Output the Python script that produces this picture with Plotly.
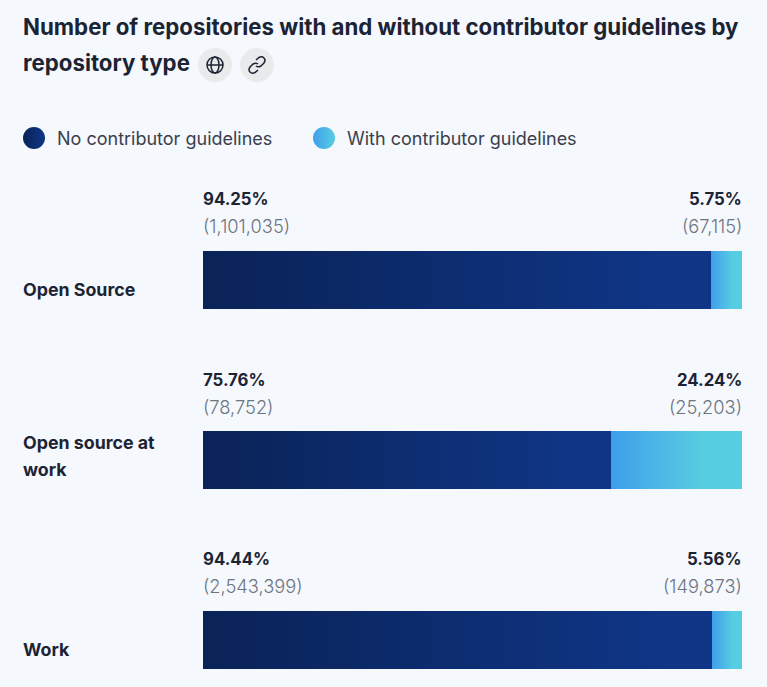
import plotly.graph_objects as go

W = 767
H = 687
L = 203
R = 742
T = 190

title_lines = ["Number of repositories with and without contributor guidelines by", "repository type"]
categories = ["Open Source", "Open source at<br>work", "Work"]
series_names = ["No contributor guidelines", "With contributor guidelines"]
no_pct = [94.25, 75.76, 94.44]
with_pct = [5.75, 24.24, 5.56]
no_count = [1101035, 78752, 2543399]
with_count = [67115, 25203, 149873]

BG = "#f5f8fd"
INK = "#1c2433"
GREY = "#6e7480"
DARK = ["#0a2357", "#0f3585"]
LIGHT = ["#3f9fea", "#57cde2"]
FONT = "Inter"
BAR_W = 58 / 180

y_pos = list(range(len(categories)))


# page pixels to paper coordinates
def px(x):
    return x / W


def py(y):
    return (H - y) / H


fig = go.Figure()

# the real bars
fig.add_trace(go.Bar(y=y_pos, x=no_pct, orientation="h", width=BAR_W, marker=dict(color=DARK[1], line_width=0),
                     name=series_names[0], showlegend=False))
fig.add_trace(go.Bar(y=y_pos, x=with_pct, orientation="h", width=BAR_W, marker=dict(color=LIGHT[1], line_width=0),
                     name=series_names[1], showlegend=False))


# bars have no gradient fill, so lay one over each segment
def gradient(start, stop, y, colors, flat):
    fig.add_trace(go.Scatter(
        x=[start, stop, stop, start, start],
        y=[y - BAR_W / 2, y - BAR_W / 2, y + BAR_W / 2, y + BAR_W / 2, y - BAR_W / 2],
        mode="lines", line=dict(width=0), fill="toself", hoverinfo="skip", showlegend=False,
        fillgradient=dict(type="horizontal", colorscale=[[0, colors[0]], [flat, colors[1]], [1, colors[1]]]),
    ))


for i in y_pos:
    gradient(0, no_pct[i], i, DARK, 0.9)
    gradient(no_pct[i], no_pct[i] + with_pct[i], i, LIGHT, 0.7)

# legend dots, on a second pair of axes that spans the whole page
fig.add_trace(go.Scatter(
    x=[34, 324], y=[138, 138], mode="markers", xaxis="x2", yaxis="y2", hoverinfo="skip", showlegend=False,
    marker=dict(size=22, color=[DARK[0], LIGHT[0]], line_width=0,
                gradient=dict(type="horizontal", color=[DARK[1], LIGHT[1]])),
))

annots = []


def px_text(x, y, text, size, color=INK, weight=400, anchor="left"):
    annots.append(dict(x=px(x), y=py(y), xref="paper", yref="paper", text=text, showarrow=False,
                       xanchor=anchor, yanchor="middle", xshift=-2 if anchor == "left" else 2,
                       font=dict(family=FONT, size=size, color=color, weight=weight)))


px_text(23, 26, title_lines[0], 22.25, weight=700)
px_text(23, 63, title_lines[1], 22.25, weight=700)
px_text(57, 138, series_names[0], 18, color="#3a404c")
px_text(347, 138, series_names[1], 18, color="#3a404c")

label_top = [290, 442.5, 649]
row_top = [199, 380, 559]
for i, cat in enumerate(categories):
    for j, line in enumerate(cat.split("<br>")):
        px_text(23, label_top[i] + 27 * j, line, 17.8, weight=700)
    px_text(L, row_top[i], f"{no_pct[i]:.2f}%", 16.8, weight=700)
    px_text(R, row_top[i], f"{with_pct[i]:.2f}%", 16.8, weight=700, anchor="right")
    px_text(L, row_top[i] + 27, f"({no_count[i]:,})", 18.3, color=GREY, weight=300)
    px_text(R, row_top[i] + 27, f"({with_count[i]:,})", 18.3, color=GREY, weight=300, anchor="right")

shapes = []


def px_shape(x0, y0, x1, y1, **kw):
    shapes.append(dict(xref="paper", yref="paper", layer="above", x0=px(x0), x1=px(x1), y0=py(y0), y1=py(y1), **kw))


def px_path(points, line):
    path = " ".join(f"{c} {px(x):.5f} {py(y):.5f}" if c != "Q" else
                    f"Q {px(x[0]):.5f} {py(x[1]):.5f} {px(y[0]):.5f} {py(y[1]):.5f}" for c, x, y in points)
    shapes.append(dict(type="path", xref="paper", yref="paper", layer="above", path=path, line=line))


# icon buttons
for cx in [215, 257]:
    px_shape(cx - 17, 48, cx + 17, 82, type="circle", fillcolor="#e9eaec", line_width=0)
line_g = dict(color=INK, width=1.5)
px_shape(207, 57, 223, 73, type="circle", line=line_g)
px_shape(211, 57, 219, 73, type="circle", line=line_g)
px_shape(207, 65, 223, 65, type="line", line=line_g)
px_path([("M", 256, 60), ("L", 259, 57.5), ("Q", (262, 56), (264, 58)), ("Q", (266, 60), (264, 63)),
         ("L", 261, 66), ("Q", (258, 67.5), (256, 66))], line_g)
px_path([("M", 258, 70), ("L", 255, 72.5), ("Q", (252, 74), (250, 72)), ("Q", (248, 70), (250, 67)),
         ("L", 253, 64), ("Q", (256, 62.5), (258, 64))], line_g)

fig.update_layout(
    width=W, height=H, autosize=False,
    margin=dict(l=0, r=0, t=0, b=0, pad=0),
    paper_bgcolor=BG, plot_bgcolor="rgba(0,0,0,0)",
    barmode="stack", bargap=0,
    showlegend=False,
    annotations=annots, shapes=shapes,
    xaxis=dict(domain=[px(L), px(R)], range=[0, 100], visible=False, fixedrange=True),
    yaxis=dict(domain=[0, py(T)], range=[2 + 47 / 180, -0.5], visible=False, fixedrange=True),
    xaxis2=dict(domain=[0, 1], range=[0, W], anchor="y2", visible=False, fixedrange=True),
    yaxis2=dict(domain=[0, 1], range=[H, 0], anchor="x2", visible=False, fixedrange=True),
)

fig.write_html("out.html", config=dict(displayModeBar=False),
               post_script="document.body.style.margin='0';document.body.style.background='" + BG + "';document.body.style.overflow='hidden';")
